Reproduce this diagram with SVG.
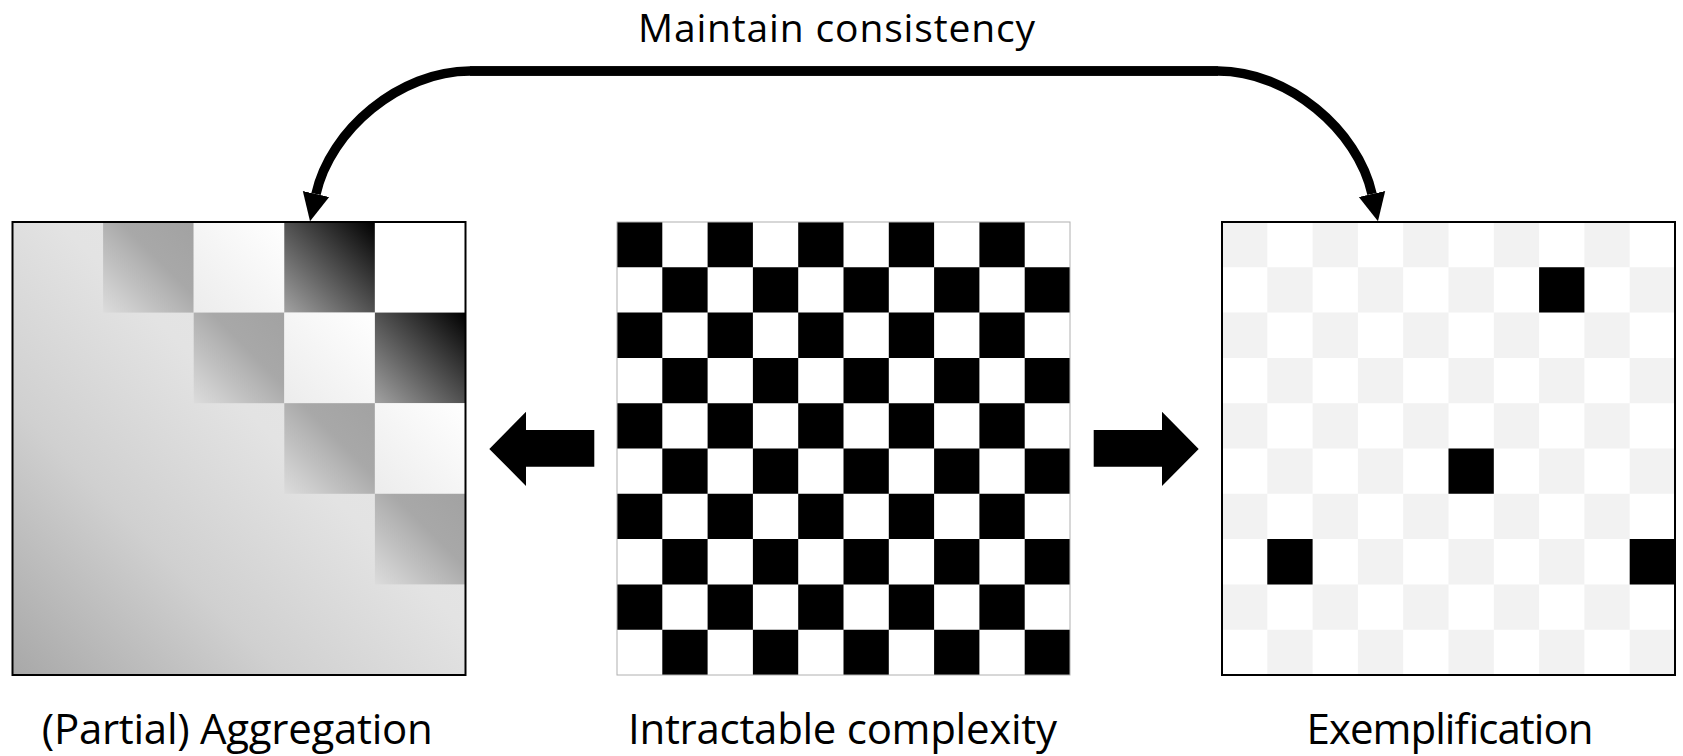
<svg xmlns="http://www.w3.org/2000/svg" width="1683" height="756" viewBox="0 0 1683 756">
  <style>
    .lbl { font-family: "Open Sans", "Liberation Sans", sans-serif; font-size: 42px; fill: #000; text-anchor: middle; }
    .ttl { font-family: "Open Sans", "Liberation Sans", sans-serif; font-size: 39px; fill: #000; text-anchor: middle; }
    .frame { fill: none; stroke: #000; stroke-width: 2; }
    .curve { fill: none; stroke: #000; stroke-width: 9.5; marker-end: url(#head); }
    .block { fill: #000; }
  </style>
  <defs>
    <marker id="head" markerUnits="userSpaceOnUse" markerWidth="30" markerHeight="30" viewBox="0 -15 30 30" refX="0" refY="0" orient="auto">
      <path d="M0,-13.5 L28,0 L0,13.5 z" fill="#000"/>
    </marker>
    <linearGradient id="gBg" x1="0" y1="1" x2="1" y2="0">
      <stop offset="0" stop-color="#a8a8a8"/>
      <stop offset="0.3" stop-color="#d0d0d0"/>
      <stop offset="0.55" stop-color="#e3e3e3"/>
      <stop offset="1" stop-color="#ebebeb"/>
    </linearGradient>
    <linearGradient id="gMid" x1="0" y1="1" x2="1" y2="0">
      <stop offset="0" stop-color="#dcdcdc"/>
      <stop offset="0.6" stop-color="#a8a8a8"/>
      <stop offset="1" stop-color="#a2a2a2"/>
    </linearGradient>
    <linearGradient id="gWhite" x1="0" y1="1" x2="1" y2="0">
      <stop offset="0" stop-color="#ececec"/>
      <stop offset="1" stop-color="#ffffff"/>
    </linearGradient>
    <linearGradient id="gDark" x1="0" y1="1" x2="1" y2="0">
      <stop offset="0" stop-color="#a2a2a2"/>
      <stop offset="1" stop-color="#000000"/>
    </linearGradient>
  </defs>
  <rect width="1683" height="756" fill="#fff"/>

  <g id="aggregation">
    <rect x="12.5" y="222" width="453" height="453" fill="url(#gBg)"/>
    <rect x="103.1" y="222" width="90.6" height="90.6" fill="url(#gMid)"/>
    <rect x="193.7" y="222" width="90.6" height="90.6" fill="url(#gWhite)"/>
    <rect x="284.3" y="222" width="90.6" height="90.6" fill="url(#gDark)"/>
    <rect x="374.9" y="222" width="90.6" height="90.6" fill="#fff"/>
    <rect x="193.7" y="312.6" width="90.6" height="90.6" fill="url(#gMid)"/>
    <rect x="284.3" y="312.6" width="90.6" height="90.6" fill="url(#gWhite)"/>
    <rect x="374.9" y="312.6" width="90.6" height="90.6" fill="url(#gDark)"/>
    <rect x="284.3" y="403.2" width="90.6" height="90.6" fill="url(#gMid)"/>
    <rect x="374.9" y="403.2" width="90.6" height="90.6" fill="url(#gWhite)"/>
    <rect x="374.9" y="493.8" width="90.6" height="90.6" fill="url(#gMid)"/>
    <rect class="frame" x="12.5" y="222" width="453" height="453"/>
    <text class="lbl" x="237.3" y="744" textLength="391">(Partial) Aggregation</text>
  </g>

  <g id="complexity">
    <rect x="617" y="222" width="453" height="453" fill="#fff"/>
    <path fill="#000" d="
      M617 222h45.3v45.3h-45.3z M707.6 222h45.3v45.3h-45.3z M798.2 222h45.3v45.3h-45.3z M888.8 222h45.3v45.3h-45.3z M979.4 222h45.3v45.3h-45.3z
      M662.3 267.3h45.3v45.3h-45.3z M752.9 267.3h45.3v45.3h-45.3z M843.5 267.3h45.3v45.3h-45.3z M934.1 267.3h45.3v45.3h-45.3z M1024.7 267.3h45.3v45.3h-45.3z
      M617 312.6h45.3v45.3h-45.3z M707.6 312.6h45.3v45.3h-45.3z M798.2 312.6h45.3v45.3h-45.3z M888.8 312.6h45.3v45.3h-45.3z M979.4 312.6h45.3v45.3h-45.3z
      M662.3 357.9h45.3v45.3h-45.3z M752.9 357.9h45.3v45.3h-45.3z M843.5 357.9h45.3v45.3h-45.3z M934.1 357.9h45.3v45.3h-45.3z M1024.7 357.9h45.3v45.3h-45.3z
      M617 403.2h45.3v45.3h-45.3z M707.6 403.2h45.3v45.3h-45.3z M798.2 403.2h45.3v45.3h-45.3z M888.8 403.2h45.3v45.3h-45.3z M979.4 403.2h45.3v45.3h-45.3z
      M662.3 448.5h45.3v45.3h-45.3z M752.9 448.5h45.3v45.3h-45.3z M843.5 448.5h45.3v45.3h-45.3z M934.1 448.5h45.3v45.3h-45.3z M1024.7 448.5h45.3v45.3h-45.3z
      M617 493.8h45.3v45.3h-45.3z M707.6 493.8h45.3v45.3h-45.3z M798.2 493.8h45.3v45.3h-45.3z M888.8 493.8h45.3v45.3h-45.3z M979.4 493.8h45.3v45.3h-45.3z
      M662.3 539.1h45.3v45.3h-45.3z M752.9 539.1h45.3v45.3h-45.3z M843.5 539.1h45.3v45.3h-45.3z M934.1 539.1h45.3v45.3h-45.3z M1024.7 539.1h45.3v45.3h-45.3z
      M617 584.4h45.3v45.3h-45.3z M707.6 584.4h45.3v45.3h-45.3z M798.2 584.4h45.3v45.3h-45.3z M888.8 584.4h45.3v45.3h-45.3z M979.4 584.4h45.3v45.3h-45.3z
      M662.3 629.7h45.3v45.3h-45.3z M752.9 629.7h45.3v45.3h-45.3z M843.5 629.7h45.3v45.3h-45.3z M934.1 629.7h45.3v45.3h-45.3z M1024.7 629.7h45.3v45.3h-45.3z"/>
    <rect x="617" y="222" width="453" height="453" fill="none" stroke="#b0b0b0" stroke-width="1"/>
    <text class="lbl" x="842.5" y="744" textLength="429">Intractable complexity</text>
  </g>

  <g id="exemplification">
    <rect x="1222" y="222" width="453" height="453" fill="#fff"/>
    <path fill="#f2f2f2" d="
      M1222 222h45.3v45.3h-45.3z M1312.6 222h45.3v45.3h-45.3z M1403.2 222h45.3v45.3h-45.3z M1493.8 222h45.3v45.3h-45.3z M1584.4 222h45.3v45.3h-45.3z
      M1267.3 267.3h45.3v45.3h-45.3z M1357.9 267.3h45.3v45.3h-45.3z M1448.5 267.3h45.3v45.3h-45.3z M1539.1 267.3h45.3v45.3h-45.3z M1629.7 267.3h45.3v45.3h-45.3z
      M1222 312.6h45.3v45.3h-45.3z M1312.6 312.6h45.3v45.3h-45.3z M1403.2 312.6h45.3v45.3h-45.3z M1493.8 312.6h45.3v45.3h-45.3z M1584.4 312.6h45.3v45.3h-45.3z
      M1267.3 357.9h45.3v45.3h-45.3z M1357.9 357.9h45.3v45.3h-45.3z M1448.5 357.9h45.3v45.3h-45.3z M1539.1 357.9h45.3v45.3h-45.3z M1629.7 357.9h45.3v45.3h-45.3z
      M1222 403.2h45.3v45.3h-45.3z M1312.6 403.2h45.3v45.3h-45.3z M1403.2 403.2h45.3v45.3h-45.3z M1493.8 403.2h45.3v45.3h-45.3z M1584.4 403.2h45.3v45.3h-45.3z
      M1267.3 448.5h45.3v45.3h-45.3z M1357.9 448.5h45.3v45.3h-45.3z M1448.5 448.5h45.3v45.3h-45.3z M1539.1 448.5h45.3v45.3h-45.3z M1629.7 448.5h45.3v45.3h-45.3z
      M1222 493.8h45.3v45.3h-45.3z M1312.6 493.8h45.3v45.3h-45.3z M1403.2 493.8h45.3v45.3h-45.3z M1493.8 493.8h45.3v45.3h-45.3z M1584.4 493.8h45.3v45.3h-45.3z
      M1267.3 539.1h45.3v45.3h-45.3z M1357.9 539.1h45.3v45.3h-45.3z M1448.5 539.1h45.3v45.3h-45.3z M1539.1 539.1h45.3v45.3h-45.3z M1629.7 539.1h45.3v45.3h-45.3z
      M1222 584.4h45.3v45.3h-45.3z M1312.6 584.4h45.3v45.3h-45.3z M1403.2 584.4h45.3v45.3h-45.3z M1493.8 584.4h45.3v45.3h-45.3z M1584.4 584.4h45.3v45.3h-45.3z
      M1267.3 629.7h45.3v45.3h-45.3z M1357.9 629.7h45.3v45.3h-45.3z M1448.5 629.7h45.3v45.3h-45.3z M1539.1 629.7h45.3v45.3h-45.3z M1629.7 629.7h45.3v45.3h-45.3z"/>
    <path fill="#000" d="M1539.1 267.3h45.3v45.3h-45.3z M1448.5 448.5h45.3v45.3h-45.3z M1267.3 539.1h45.3v45.3h-45.3z M1629.7 539.1h45.3v45.3h-45.3z"/>
    <rect class="frame" x="1222" y="222" width="453" height="453"/>
    <text class="lbl" x="1450" y="744" textLength="287">Exemplification</text>
  </g>

  <g id="connectors">
    <path class="curve" d="M1218,71 H470 C400,71 330,130 316,194"/>
    <path class="curve" d="M470,71 H1218 C1288,71 1358,130 1372,194"/>
    <polygon class="block" points="489.3,449 526,411.7 526,430 594.3,430 594.3,466.7 526,466.7 526,486"/>
    <polygon class="block" points="1093.7,430 1162,430 1162,411.7 1198.7,449 1162,486 1162,466.7 1093.7,466.7"/>
    <text class="ttl" x="836.5" y="41.7" textLength="397">Maintain consistency</text>
  </g>
</svg>
